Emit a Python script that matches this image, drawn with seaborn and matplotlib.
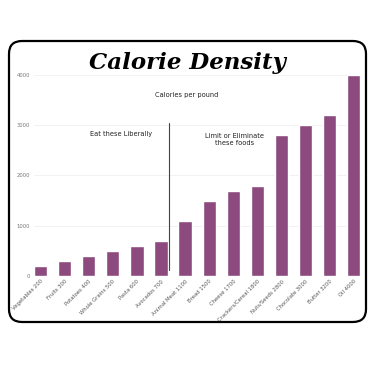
import matplotlib
matplotlib.use("Agg")
import matplotlib.pyplot as plt
import seaborn as sns
import pandas as pd
from matplotlib.patches import FancyBboxPatch

# data
foods = ["Vegetables", "Fruits", "Potatoes", "Whole Grains", "Pasta", "Avocados",
         "Animal Meat", "Bread", "Cheese", "Crackers/Cereal", "Nuts/Seeds",
         "Chocolate", "Butter", "Oil"]
calories = [200, 300, 400, 500, 600, 700, 1100, 1500, 1700, 1800, 2800, 3000, 3200, 4000]
labels = [f"{f} {c}" for f, c in zip(foods, calories)]
y_ticks = [0, 1000, 2000, 3000, 4000]

df = pd.DataFrame({"label": labels, "calories": calories})

sns.set_style("white")
fig = plt.figure(figsize=(3.75, 3.66), dpi=100)
fig.patch.set_facecolor("white")

# rounded frame
frame = FancyBboxPatch((9 / 375, 1 - 322 / 366), 357 / 375, 281 / 366,
                       boxstyle="round,pad=0,rounding_size=0.035",
                       transform=fig.transFigure, fill=False,
                       edgecolor="black", linewidth=1.6)
fig.patches.append(frame)

ax = fig.add_axes([0.0907, 0.246, 0.875, 0.549])
sns.barplot(data=df, x="label", y="calories", color="#8c4a7e", width=0.55,
            saturation=1, ax=ax)
ax.set_ylim(0, 4000)
ax.set_xlim(-0.27, len(labels) - 0.65)
ax.set_yticks(y_ticks)
ax.set_yticklabels([str(t) for t in y_ticks])
ax.grid(axis="y", color="#f0f0f0", linewidth=0.6)
ax.set_axisbelow(True)
for s in ax.spines.values():
    s.set_visible(False)
ax.set_xlabel("")
ax.set_ylabel("")
ax.tick_params(axis="y", labelsize=3.8, colors="#777777", length=0, pad=3)
ax.tick_params(axis="x", labelsize=3.8, colors="#555555", length=0, pad=2)
plt.setp(ax.get_xticklabels(), rotation=45, ha="right", rotation_mode="anchor")

# dividing line and notes
ax.plot([5.33, 5.33], [120, 3045], color="#444444", linewidth=0.8)
ax.text(6.08, 3600, "Calories per pound", ha="center", va="center",
        fontsize=4.8, color="#222222")
ax.text(3.34, 2825, "Eat these Liberally", ha="center", va="center",
        fontsize=4.8, color="#222222")
ax.text(8.07, 2716, "Limit or Eliminate\nthese foods", ha="center", va="center",
        fontsize=4.8, color="#222222", linespacing=1.3)

fig.text(0.5, 1 - 63 / 366, "Calorie Density", ha="center", va="center",
         fontsize=16.5, fontstyle="italic", fontweight="bold",
         family="DejaVu Serif", color="black")

fig.savefig("out.png", dpi=100, facecolor="white")
